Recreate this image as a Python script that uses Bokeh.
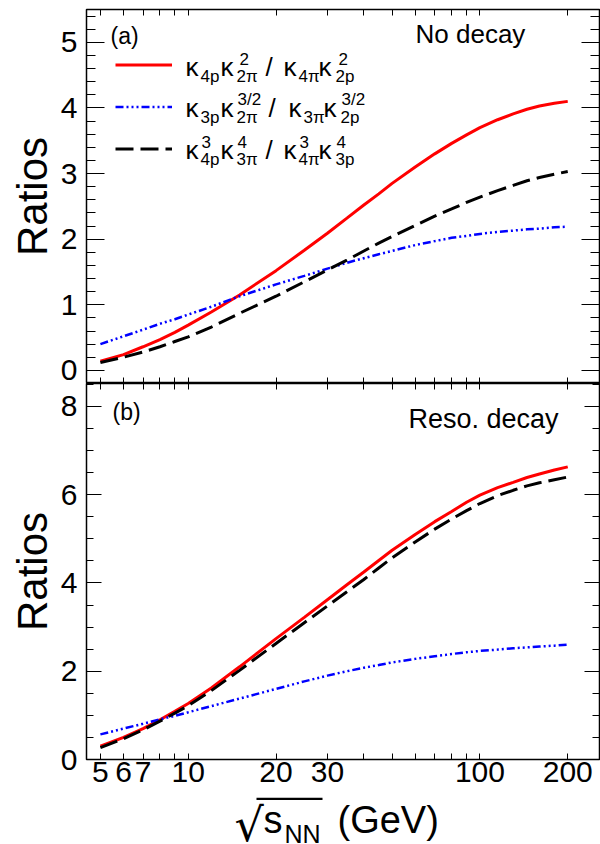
from bokeh.plotting import figure
from bokeh.models import (Range1d, FixedTicker, SingleIntervalTicker, LinearAxis, LogAxis,
                          Legend, LegendItem, Label, BoxAnnotation)
from bokeh.layouts import column
from bokeh.core.properties import value
from bokeh.embed import file_html
from bokeh.resources import INLINE

FONT = "Liberation Sans"

# ---------------- data ----------------
energy = [5, 6, 7, 8, 9, 10, 12, 15, 20, 25, 30, 35, 40, 45, 50, 60, 70, 80, 90, 100, 115, 130, 145, 160, 180, 200]

# (a) No decay
a_k4 = [0.14, 0.24, 0.36, 0.47, 0.58, 0.69, 0.89, 1.15, 1.52, 1.83, 2.09, 2.32, 2.52, 2.69, 2.85, 3.10, 3.30,
        3.46, 3.59, 3.70, 3.82, 3.91, 3.98, 4.03, 4.07, 4.10]
a_k3 = [0.40, 0.52, 0.62, 0.71, 0.78, 0.85, 0.97, 1.13, 1.31, 1.44, 1.55, 1.64, 1.71, 1.77, 1.82, 1.91, 1.97,
        2.02, 2.05, 2.08, 2.11, 2.13, 2.15, 2.16, 2.18, 2.19]
a_k43 = [0.12, 0.20, 0.28, 0.36, 0.44, 0.51, 0.66, 0.87, 1.13, 1.35, 1.53, 1.68, 1.82, 1.94, 2.04, 2.21, 2.35,
         2.46, 2.56, 2.64, 2.74, 2.82, 2.89, 2.94, 2.99, 3.03]

# (b) Reso. decay
b_k4 = [0.30, 0.50, 0.70, 0.90, 1.09, 1.27, 1.62, 2.10, 2.74, 3.22, 3.62, 3.96, 4.25, 4.51, 4.74, 5.10, 5.39,
        5.62, 5.83, 5.99, 6.16, 6.28, 6.39, 6.47, 6.56, 6.63]
b_k3 = [0.57, 0.70, 0.81, 0.91, 0.99, 1.07, 1.21, 1.38, 1.60, 1.77, 1.90, 2.00, 2.08, 2.14, 2.20, 2.28, 2.34,
        2.39, 2.43, 2.46, 2.49, 2.52, 2.54, 2.56, 2.58, 2.60]
b_k43 = [0.27, 0.47, 0.67, 0.87, 1.05, 1.22, 1.56, 2.02, 2.63, 3.10, 3.48, 3.80, 4.08, 4.34, 4.57, 4.93, 5.22,
         5.45, 5.64, 5.80, 5.98, 6.10, 6.20, 6.27, 6.34, 6.40]

x_ticks = [5, 6, 7, 10, 20, 30, 100, 200]
x_tick_labels = ["5", "6", "7", "10", "20", "30", "100", "200"]
x_minor_ticks = [8, 9, 40, 50, 60, 70, 80, 90]

x_lim = (4.48, 257)
a_ylim = (-0.2, 5.5)
b_ylim = (0.0, 8.52)

series_colors = ["#ff0000", "#0000ff", "#000000"]
series_dash = ["solid", "8 3 2 3 2 3 2 3", "18 7"]
series_width = [3, 2.5, 3]

# legend text pieces: (text, dx, dy, kind)  kind m = main, s = small
legend_rows = [
    [("κ", 0, 0, "m"), ("4p", 15, -7, "s"), ("κ", 35, 0, "m"), ("2", 54, 11, "s"), ("2π", 51, -7, "s"),
     ("/", 80, 0, "m"), ("κ", 98, 0, "m"), ("4π", 113, -7, "s"), ("κ", 133, 0, "m"), ("2", 153, 11, "s"),
     ("2p", 150, -7, "s")],
    [("κ", 0, 0, "m"), ("3p", 15, -7, "s"), ("κ", 35, 0, "m"), ("3/2", 52, 11, "s"), ("2π", 51, -7, "s"),
     ("/", 83, 0, "m"), ("κ", 103, 0, "m"), ("3π", 118, -7, "s"), ("κ", 138, 0, "m"), ("3/2", 156, 11, "s"),
     ("2p", 155, -7, "s")],
    [("κ", 0, 0, "m"), ("3", 16, 11, "s"), ("4p", 15, -7, "s"), ("κ", 35, 0, "m"), ("4", 52, 11, "s"),
     ("3π", 51, -7, "s"), ("/", 80, 0, "m"), ("κ", 98, 0, "m"), ("3", 114, 11, "s"), ("4π", 113, -7, "s"),
     ("κ", 133, 0, "m"), ("4", 151, 11, "s"), ("3p", 150, -7, "s")],
]

FIG_W = 600
LEFT = 86


def style_axis(ax, tin, minin, labels):
    ax.axis_line_color = None
    ax.major_tick_in = tin
    ax.major_tick_out = 0
    ax.minor_tick_in = minin
    ax.minor_tick_out = 0
    ax.major_tick_line_color = "black"
    ax.minor_tick_line_color = "black"
    ax.major_tick_line_width = 1
    ax.minor_tick_line_width = 1
    if labels:
        ax.major_label_text_font = FONT
        ax.major_label_text_font_size = "30px"
        ax.major_label_text_color = "black"
    else:
        ax.major_label_text_font_size = "1px"
        ax.major_label_text_color = None
        ax.major_label_standoff = 0


def make_fig(height, ylim, interval, nminor, tin, minin, top_border, bottom_border, show_x_labels):
    p = figure(width=FIG_W, height=height, x_axis_type="log",
               x_range=Range1d(*x_lim), y_range=Range1d(*ylim),
               output_backend="svg", toolbar_location=None,
               min_border_left=LEFT, min_border_right=1,
               min_border_top=top_border, min_border_bottom=bottom_border)
    p.grid.visible = False
    p.outline_line_color = "black"
    p.outline_line_width = 1.5
    p.background_fill_color = "white"
    p.border_fill_color = "white"

    xb = p.xaxis[0]
    xb.ticker = FixedTicker(ticks=x_ticks, minor_ticks=x_minor_ticks)
    style_axis(xb, 6, 6, show_x_labels)
    if show_x_labels:
        xb.major_label_overrides = dict(zip(x_ticks, x_tick_labels))
        xb.major_label_standoff = 2

    yl = p.yaxis[0]
    yl.ticker = SingleIntervalTicker(interval=interval, num_minor_ticks=nminor)
    style_axis(yl, tin, minin, True)
    yl.major_label_standoff = 9
    yl.axis_label = "Ratios"
    yl.axis_label_text_font = FONT
    yl.axis_label_text_font_size = "42px"
    yl.axis_label_text_font_style = "normal"
    yl.axis_label_text_color = "black"
    yl.axis_label_standoff = 2

    yr = LinearAxis(ticker=SingleIntervalTicker(interval=interval, num_minor_ticks=nminor))
    style_axis(yr, tin, minin, False)
    p.add_layout(yr, "right")

    xt = LogAxis(ticker=FixedTicker(ticks=x_ticks, minor_ticks=x_minor_ticks))
    style_axis(xt, 6, 6, False)
    p.add_layout(xt, "above")
    return p


def add_text(p, text, sx, sy, size, font=FONT):
    # sy is the wanted baseline; the renderer places the anchor ~0.34 em above it
    p.add_layout(Label(x=sx, y=sy + 0.34 * size, x_units="screen", y_units="screen", text=text,
                       text_font=font, text_font_size=f"{size}px",
                       text_baseline="alphabetic", text_align="left", text_color="black"))


# ---------------- top panel ----------------
p1 = make_fig(383, a_ylim, 1, 5, 18, 9, 9, 0, False)
rs = []
for ys, c, d, w in zip([a_k4, a_k3, a_k43], series_colors, series_dash, series_width):
    rs.append(p1.line(energy, ys, line_color=c, line_dash=d, line_width=w))

legend = Legend(items=[LegendItem(label=value(" "), renderers=[r]) for r in rs],
                location=(29, 224), orientation="vertical",
                glyph_width=57, glyph_height=21, label_height=21, label_width=1,
                spacing=21, padding=0, margin=0, label_standoff=0,
                border_line_color=None, background_fill_alpha=0,
                label_text_font_size="1px", label_text_color=None)
p1.add_layout(legend)

for row, base in zip(legend_rows, [308, 267, 225]):
    for t, dx, dy, kind in row:
        add_text(p1, t, 99 + dx, base + dy, 26 if kind == "m" else 17)

add_text(p1, "(a)", 24, 340, 23)
add_text(p1, "No decay", 329, 341, 26)

# ---------------- bottom panel ----------------
p2 = make_fig(414, b_ylim, 2, 4, 15, 7, 0, 38, True)
for ys, c, d, w in zip([b_k4, b_k3, b_k43], series_colors, series_dash, series_width):
    p2.line(energy, ys, line_color=c, line_dash=d, line_width=w)

add_text(p2, "(b)", 26, 340, 23)
add_text(p2, "Reso. decay", 322, 331, 27)

# ---------------- x-axis title strip ----------------
p3 = figure(width=FIG_W, height=47, x_range=Range1d(0, 1), y_range=Range1d(0, 1),
            output_backend="svg", toolbar_location=None,
            x_axis_location=None, y_axis_location=None,
            min_border_left=LEFT, min_border_right=1, min_border_top=0, min_border_bottom=0)
p3.grid.visible = False
p3.outline_line_color = None
p3.background_fill_color = "white"
p3.border_fill_color = "white"

add_text(p3, "√", 148, 4, 46, "DejaVu Sans")
p3.add_layout(BoxAnnotation(left=170, right=236, top=47, bottom=44.5,
                            left_units="screen", right_units="screen",
                            top_units="screen", bottom_units="screen",
                            fill_color="black", fill_alpha=1, line_color=None))
add_text(p3, "s", 177, 12, 38)
add_text(p3, "NN", 198, 2, 25)
add_text(p3, "(GeV)", 251, 12, 38)

layout = column(p1, p2, p3, spacing=0)
open("out.html", "w").write(file_html(layout, INLINE))
